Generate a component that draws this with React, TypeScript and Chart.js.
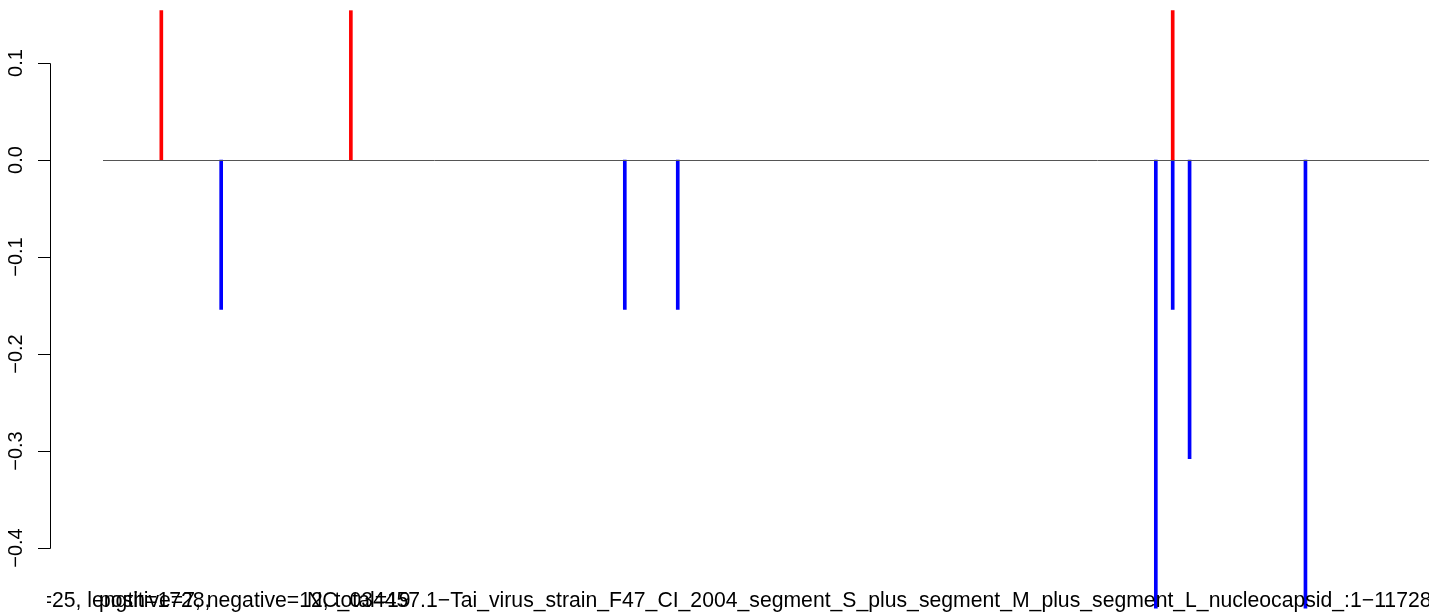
import React, { useEffect, useRef } from "react";
import { Chart, registerables } from "chart.js";

Chart.register(...registerables);

// Positions (bp) of the marks and their values
const positiveX = [76, 323, 1394];
const positiveY = [0.154, 0.154, 0.154];
const negativeX = [154, 680, 749, 1372, 1394, 1416, 1567];
const negativeY = [-0.154, -0.154, -0.154, -0.462, -0.154, -0.308, -0.462];

const yTicks = [0.1, 0.0, -0.1, -0.2, -0.3, -0.4];
const yTickLabels = ["0.1", "0.0", "\u22120.1", "\u22120.2", "\u22120.3", "\u22120.4"];

const label1 = "=25, length=1728,";
const label2 = "positive=7, negative=12, total=19";
const label3 =
  "NC_034457.1\u2212Tai_virus_strain_F47_CI_2004_segment_S_plus_segment_M_plus_segment_L_nucleocapsid_:1\u221211728";

const FONT = '20px "Liberation Sans", Arial, sans-serif';
const LABEL_FONT = '21.2px "Liberation Sans", Arial, sans-serif';

const rAxisPlugin = {
  id: "rAxis",
  afterDatasetsDraw(chart: any) {
    const ctx = chart.ctx as CanvasRenderingContext2D;
    const y = chart.scales.y;
    const area = chart.chartArea;
    ctx.save();
    // zero line
    const y0 = Math.round(y.getPixelForValue(0)) + 0.5;
    ctx.strokeStyle = "#555555";
    ctx.lineWidth = 1;
    ctx.beginPath();
    ctx.moveTo(area.left, y0);
    ctx.lineTo(area.right, y0);
    ctx.stroke();

    // y axis (R style)
    const axX = 50.5;
    const top = Math.round(y.getPixelForValue(yTicks[0])) + 0.5;
    const bot = Math.round(y.getPixelForValue(yTicks[yTicks.length - 1])) + 0.5;
    ctx.strokeStyle = "#000000";
    ctx.beginPath();
    ctx.moveTo(axX, top);
    ctx.lineTo(axX, bot);
    yTicks.forEach((v) => {
      const py = Math.round(y.getPixelForValue(v)) + 0.5;
      ctx.moveTo(axX, py);
      ctx.lineTo(38, py);
    });
    ctx.stroke();

    ctx.fillStyle = "#000000";
    ctx.font = FONT;
    ctx.textAlign = "center";
    ctx.textBaseline = "alphabetic";
    yTicks.forEach((v, i) => {
      const py = y.getPixelForValue(v);
      ctx.save();
      ctx.translate(22, py);
      ctx.rotate(-Math.PI / 2);
      ctx.fillText(yTickLabels[i], 0, 0);
      ctx.restore();
    });

    // overlapping bottom labels
    ctx.font = LABEL_FONT;
    ctx.textAlign = "left";
    const baseY = 607;
    ctx.save();
    ctx.beginPath();
    ctx.rect(47, 0, 2000, 2000);
    ctx.clip();
    const eqW = ctx.measureText("=").width;
    ctx.fillText(label1, 52 - eqW, baseY);
    ctx.restore();
    ctx.fillText(label2, 99, baseY);
    ctx.fillText(label3, 307, baseY);
    ctx.restore();
  },
};

export default function App() {
  const ref = useRef<HTMLCanvasElement | null>(null);
  useEffect(() => {
    if (!ref.current) return;
    const chart = new Chart(ref.current, {
      type: "bar",
      data: {
        datasets: [
          {
            label: "positive",
            data: positiveX.map((x, i) => ({ x, y: positiveY[i] })),
            backgroundColor: "#FF0000",
            borderWidth: 0,
            barThickness: 3,
            grouped: false,
          } as any,
          {
            label: "negative",
            data: negativeX.map((x, i) => ({ x, y: negativeY[i] })),
            backgroundColor: "#0000FF",
            borderWidth: 0,
            barThickness: 3,
            grouped: false,
          } as any,
        ],
      },
      options: {
        animation: false,
        responsive: false,
        maintainAspectRatio: false,
        layout: { padding: { left: 103, right: 0, top: 0, bottom: 0 } },
        plugins: { legend: { display: false }, tooltip: { enabled: false } },
        scales: {
          x: { type: "linear", min: 0, max: 1728, offset: false, display: false },
          y: { type: "linear", min: -0.467, max: 0.165, display: false },
        },
      },
      plugins: [rAxisPlugin],
    });
    return () => chart.destroy();
  }, []);
  return (
    <div style={{ position: "fixed", left: 0, top: 0, width: 1429, height: 613, background: "#fff" }}>
      <canvas ref={ref} width={1429} height={613} style={{ width: 1429, height: 613, display: "block" }} />
    </div>
  );
}
